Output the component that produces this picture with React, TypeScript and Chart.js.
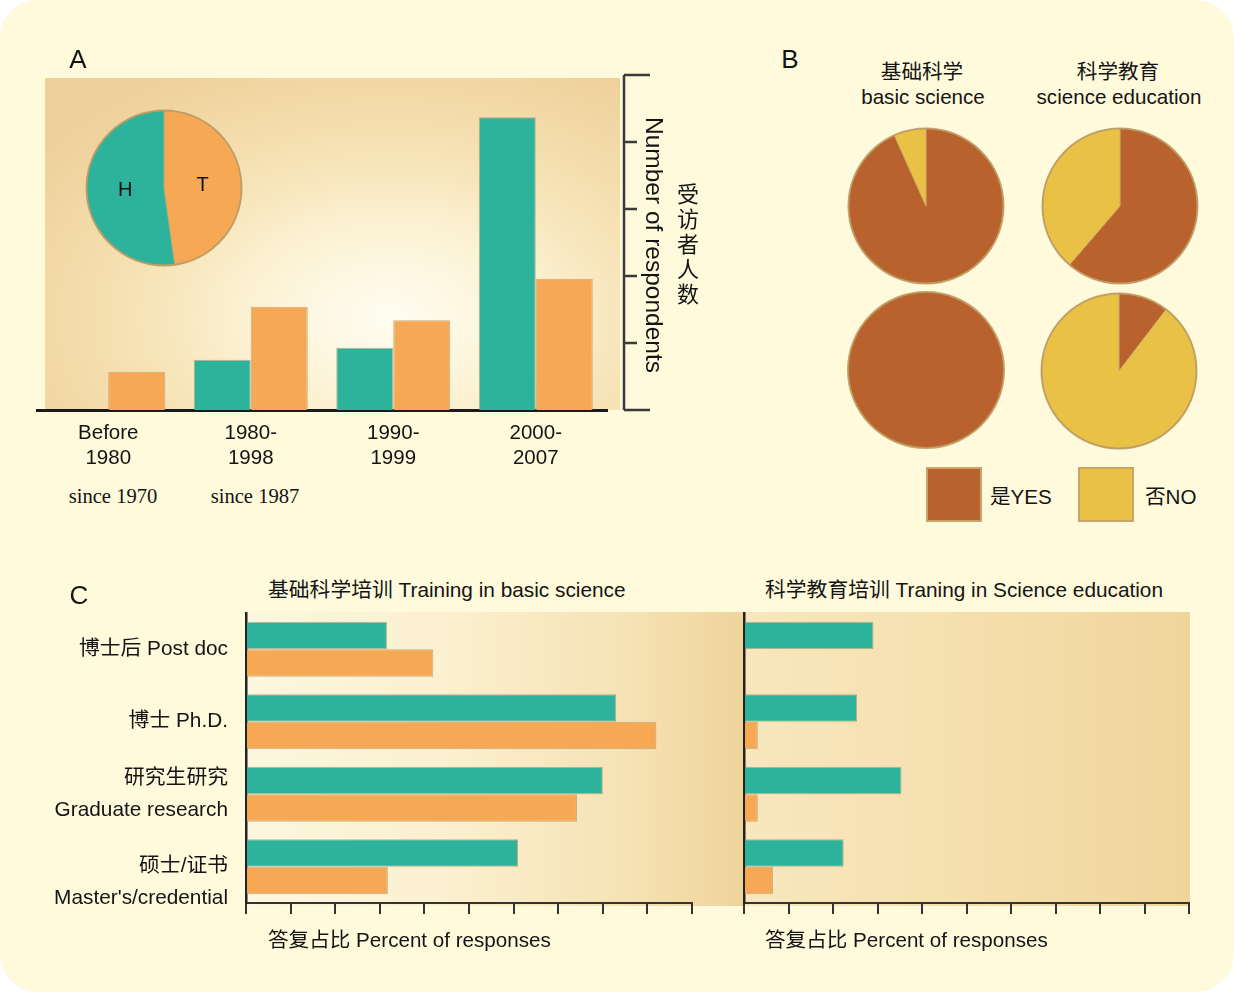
import React, { useEffect, useRef } from "react";
import { Chart, registerables } from "chart.js";

Chart.register(...registerables);

const FONT = '"Liberation Sans", Arial, "Noto Sans CJK SC", sans-serif';
const SERIF = '"Liberation Serif", "Times New Roman", serif';
const TEAL = "#2db39b";
const ORANGE = "#f6a855";
const BROWN = "#b9622d";
const YELLOW = "#e9c245";
const EDGE = "rgba(175,150,105,0.75)";

// ---------- Panel A ----------
const periodLabels = [["Before", "1980"], ["1980-", "1998"], ["1990-", "1999"], ["2000-", "2007"]];
const seriesH = [0, 0.75, 0.93, 4.37];
const seriesT = [0.57, 1.54, 1.34, 1.96];
const respondentTicks = [0, 1, 2, 3, 4, 5];
const insetLabels = ["T", "H"];
const insetValues = [47.8, 52.2];

// ---------- Panel B ----------
const yesNoLabels = ["是YES", "否NO"];
const basicTop = [93.3, 6.7];
const eduTop = [61.3, 38.7];
const basicBottom = [100, 0];
const eduBottom = [10.4, 89.6];

// ---------- Panel C ----------
const degreeLabels: (string | string[])[] = [
  "博士后 Post doc",
  "博士 Ph.D.",
  ["研究生研究", "Graduate research"],
  ["", "硕士/证书", "Master's/credential"],
];
const basicH = [31.6, 83, 80, 61];
const basicT = [42, 92, 74.2, 31.8];
const eduH = [29.1, 25.4, 35.4, 22.4];
const eduT = [0, 3.1, 3.1, 6.5];
const percentMax = 100;
const percentStep = 10;

const ringPlugin = {
  id: "ring",
  afterDatasetsDraw(chart: any) {
    const arc = chart.getDatasetMeta(0).data[0];
    if (!arc) return;
    const { x, y, outerRadius } = arc;
    const ctx = chart.ctx;
    ctx.save();
    ctx.beginPath();
    ctx.arc(x, y, outerRadius, 0, Math.PI * 2);
    ctx.strokeStyle = "rgba(190,155,100,0.9)";
    ctx.lineWidth = 2;
    ctx.stroke();
    ctx.restore();
  },
};

const sliceLabelPlugin = {
  id: "sliceLabels",
  afterDatasetsDraw(chart: any) {
    const ctx = chart.ctx;
    const meta = chart.getDatasetMeta(0);
    ctx.save();
    ctx.font = `20px ${FONT}`;
    ctx.fillStyle = "#111";
    ctx.textAlign = "center";
    ctx.textBaseline = "middle";
    meta.data.forEach((arc: any, i: number) => {
      const p = arc.tooltipPosition();
      ctx.fillText(chart.data.labels[i], p.x, p.y);
    });
    ctx.restore();
  },
};

const bracketPlugin = {
  id: "bracket",
  afterDraw(chart: any) {
    const ctx = chart.ctx;
    const ys = chart.scales.y;
    const x0 = chart.chartArea.right + 17;
    ctx.save();
    ctx.strokeStyle = "#3a3a3a";
    ctx.lineWidth = 2.5;
    ctx.beginPath();
    ctx.moveTo(x0, ys.getPixelForValue(respondentTicks[respondentTicks.length - 1]));
    ctx.lineTo(x0, ys.getPixelForValue(respondentTicks[0]));
    respondentTicks.forEach((v, i) => {
      const len = i === 0 || i === respondentTicks.length - 1 ? 26 : 13;
      const y = ys.getPixelForValue(v);
      ctx.moveTo(x0, y);
      ctx.lineTo(x0 + len, y);
    });
    ctx.stroke();
    ctx.restore();
  },
};

function pieConfig(values: number[], colors: string[], labels: string[], extra: any[] = []) {
  return {
    type: "pie",
    data: {
      labels,
      datasets: [
        {
          data: values,
          backgroundColor: colors,
          borderColor: "rgba(200,165,110,0.8)",
          borderWidth: (c: any) => (c.dataset.data.filter((v: number) => v > 0).length > 1 ? 1 : 0),
          hoverOffset: 0,
        },
      ],
    },
    options: {
      responsive: false,
      animation: false,
      devicePixelRatio: 1,
      layout: { padding: 2 },
      plugins: { legend: { display: false }, tooltip: { enabled: false } },
    },
    plugins: [ringPlugin, ...extra],
  };
}

const noPad = (s: any) => {
  s.paddingTop = 0;
  s.paddingBottom = 0;
  s.paddingLeft = 0;
  s.paddingRight = 0;
};

function barAConfig() {
  return {
    type: "bar",
    data: {
      labels: periodLabels,
      datasets: [
        { label: "H", data: seriesH, backgroundColor: TEAL, borderColor: EDGE, borderWidth: 1 },
        { label: "T", data: seriesT, backgroundColor: ORANGE, borderColor: EDGE, borderWidth: 1 },
      ],
    },
    options: {
      responsive: false,
      animation: false,
      devicePixelRatio: 1,
      layout: { padding: { left: 37, right: 113, top: 15, bottom: 0 } },
      datasets: { bar: { categoryPercentage: 0.8, barPercentage: 1 } },
      plugins: { legend: { display: false }, tooltip: { enabled: false } },
      scales: {
        x: {
          grid: { display: false, drawTicks: false },
          border: { display: true, color: "#1a1a1a", width: 3 },
          ticks: {
            color: "#141414",
            font: { family: FONT, size: 20.5, lineHeight: 1.22 },
            padding: 11,
            maxRotation: 0,
            autoSkip: false,
          },
          afterFit: (s: any) => {
            s.height = 70;
            noPad(s);
          },
        },
        y: { display: false, min: 0, max: 5 },
      },
    },
    plugins: [bracketPlugin],
  };
}

function barCConfig(h: number[], t: number[], showLabels: boolean, yWidth: number, padRight: number) {
  return {
    type: "bar",
    data: {
      labels: degreeLabels,
      datasets: [
        { label: "H", data: h, backgroundColor: TEAL, borderColor: EDGE, borderWidth: 1 },
        { label: "T", data: t, backgroundColor: ORANGE, borderColor: EDGE, borderWidth: 1 },
      ],
    },
    options: {
      indexAxis: "y",
      responsive: false,
      animation: false,
      devicePixelRatio: 1,
      layout: { padding: { left: 0, right: padRight, top: 13, bottom: 0 } },
      datasets: { bar: { categoryPercentage: 0.76, barPercentage: 1 } },
      plugins: { legend: { display: false }, tooltip: { enabled: false } },
      scales: {
        x: {
          min: 0,
          max: percentMax,
          grid: { display: true, drawOnChartArea: false, drawTicks: true, tickLength: 11, color: "#333", lineWidth: 2 },
          border: { display: true, color: "#333", width: 2 },
          ticks: { display: false, stepSize: percentStep },
          afterFit: (s: any) => {
            s.height = 27;
            noPad(s);
          },
        },
        y: {
          grid: { display: false, drawTicks: false },
          border: { display: true, color: "#222", width: 2.5 },
          ticks: {
            display: showLabels,
            color: "#141414",
            font: { family: FONT, size: 20.8, lineHeight: 1.5 },
            padding: 18,
            autoSkip: false,
          },
          afterFit: (s: any) => {
            s.width = yWidth;
            noPad(s);
          },
        },
      },
    },
  };
}

function ChartBox({ left, top, width, height, make }: { left: number; top: number; width: number; height: number; make: () => any }) {
  const ref = useRef<HTMLCanvasElement>(null);
  useEffect(() => {
    const chart = new Chart(ref.current as HTMLCanvasElement, make());
    return () => chart.destroy();
  }, []);
  return <canvas ref={ref} width={width} height={height} style={{ position: "absolute", left, top, width, height }} />;
}

function Txt({ x, y, a = "c", s = 20.6, f, children, style }: { x: number; y: number; a?: "l" | "c" | "r"; s?: number; f?: string; children: React.ReactNode; style?: React.CSSProperties }) {
  const tx = a === "l" ? "0" : a === "r" ? "-100%" : "-50%";
  return (
    <div
      style={{
        position: "absolute",
        left: x,
        top: y,
        transform: `translate(${tx},-50%)`,
        fontSize: s,
        lineHeight: 1.15,
        whiteSpace: "nowrap",
        color: "#141414",
        fontFamily: f ?? FONT,
        ...style,
      }}
    >
      {children}
    </div>
  );
}

export default function App() {
  Chart.defaults.font.family = FONT;
  return (
    <div style={{ position: "absolute", left: 0, top: 0, width: 1234, height: 992, background: "#ffffff", fontFamily: FONT, overflow: "hidden" }}>
      <div style={{ position: "absolute", left: 0, top: 0, width: 1234, height: 992, background: "#fefadb", borderRadius: 38 }} />

      {/* Panel A */}
      <div
        style={{
          position: "absolute",
          left: 45,
          top: 78,
          width: 575,
          height: 332,
          background: "radial-gradient(ellipse 75% 85% at 60% 72%, #fffdf2 0%, #fcf3d6 30%, #f6e2b4 60%, #eed09a 100%)",
        }}
      />
      <ChartBox left={0} top={60} width={720} height={420} make={barAConfig} />
      <ChartBox left={84} top={108} width={160} height={160} make={() => pieConfig(insetValues, [ORANGE, TEAL], insetLabels, [sliceLabelPlugin])} />
      <Txt x={78} y={60} s={26}>A</Txt>
      <Txt x={113} y={497} f={SERIF}>since 1970</Txt>
      <Txt x={255} y={497} f={SERIF}>since 1987</Txt>
      <div style={{ position: "absolute", left: 654, top: 245, transform: "translate(-50%,-50%)", writingMode: "vertical-rl", fontSize: 24.5, lineHeight: 1, whiteSpace: "nowrap", color: "#141414" }}>
        Number of respondents
      </div>
      <div style={{ position: "absolute", left: 685, top: 245, transform: "translate(-50%,-50%)", writingMode: "vertical-rl", fontSize: 22, letterSpacing: 3, lineHeight: 1, whiteSpace: "nowrap", color: "#141414" }}>
        受访者人数
      </div>

      {/* Panel B */}
      <Txt x={790} y={60} s={26}>B</Txt>
      <Txt x={922} y={72}>基础科学</Txt>
      <Txt x={923} y={97}>basic science</Txt>
      <Txt x={1118} y={72}>科学教育</Txt>
      <Txt x={1119} y={97}>science education</Txt>
      <ChartBox left={846} top={126} width={160} height={160} make={() => pieConfig(basicTop, [BROWN, YELLOW], yesNoLabels)} />
      <ChartBox left={1040} top={126} width={160} height={160} make={() => pieConfig(eduTop, [BROWN, YELLOW], yesNoLabels)} />
      <ChartBox left={846} top={290} width={160} height={160} make={() => pieConfig(basicBottom, [BROWN, YELLOW], yesNoLabels)} />
      <ChartBox left={1039} top={291} width={160} height={160} make={() => pieConfig(eduBottom, [BROWN, YELLOW], yesNoLabels)} />
      <div style={{ position: "absolute", left: 926, top: 467, width: 52, height: 51, background: BROWN, border: "2px solid #c9a466" }} />
      <Txt x={990} y={497} a="l">{yesNoLabels[0]}</Txt>
      <div style={{ position: "absolute", left: 1078, top: 467, width: 52, height: 51, background: YELLOW, border: "2px solid #c9a466" }} />
      <Txt x={1145} y={497} a="l">{yesNoLabels[1]}</Txt>

      {/* Panel C */}
      <Txt x={79} y={596} s={26}>C</Txt>
      <Txt x={268} y={590} a="l" s={20.8}>基础科学培训 Training in basic science</Txt>
      <Txt x={765} y={590} a="l" s={20.8}>科学教育培训 Traning in Science education</Txt>
      <div style={{ position: "absolute", left: 246, top: 612, width: 497, height: 294, background: "linear-gradient(to right, #fdf7df 0%, #fbf0cf 40%, #f6e3b6 75%, #efd49b 100%)" }} />
      <div style={{ position: "absolute", left: 743, top: 612, width: 447, height: 294, background: "linear-gradient(to right, #f8e7be 0%, #f5dfae 50%, #f0d59b 100%)" }} />
      <ChartBox left={40} top={600} width={705} height={330} make={() => barCConfig(basicH, basicT, true, 206, 53)} />
      <ChartBox left={740} top={600} width={460} height={330} make={() => barCConfig(eduH, eduT, false, 4, 11)} />
      <Txt x={268} y={940} a="l">答复占比 Percent of responses</Txt>
      <Txt x={765} y={940} a="l">答复占比 Percent of responses</Txt>
    </div>
  );
}
